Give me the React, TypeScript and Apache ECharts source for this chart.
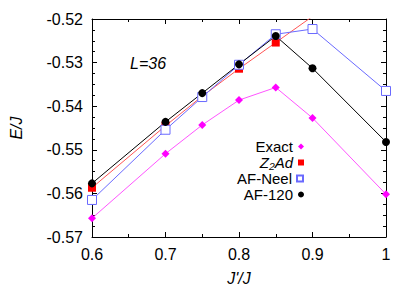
import React, { useEffect, useRef } from 'react';
import * as echarts from 'echarts';

const jRatio = [0.6, 0.7, 0.75, 0.8, 0.85, 0.9, 1];
const exact = [-0.5657, -0.5509, -0.5443, -0.5386, -0.5357, -0.5427, -0.5602];
const z2adX = [0.6, 0.7, 0.75, 0.8, 0.85];
const z2ad = [-0.5587, -0.5445, -0.5377, -0.5314, -0.5254];
const z2adTrendX = [0.85, 0.9];
const z2adTrend = [-0.5254, -0.5194];
const afNeel = [-0.5615, -0.5454, -0.5379, -0.5305, -0.5235, -0.5223, -0.5365];
const af120 = [-0.5577, -0.5436, -0.537, -0.5304, -0.5239, -0.5313, -0.5482];
const legendNames = ['Exact', 'Z2Ad', 'AF-Neel', 'AF-120'];
const legendLabels = ['Exact', 'Z\u2082Ad', 'AF-Neel', 'AF-120'];

const FONT = 'Liberation Sans, Arial, Helvetica, sans-serif';

const pairs = (xs: number[], ys: number[]) => xs.map((x, i) => [x, ys[i]]);

export default function App() {
  const ref = useRef<HTMLDivElement>(null);
  useEffect(() => {
    if (!ref.current) return;
    const chart = echarts.init(ref.current, undefined, { renderer: 'svg' });
    const axisCommon = {
      axisLine: { show: true, lineStyle: { color: '#000', width: 1 } },
      splitLine: { show: false },
    };
    const xBase = { type: 'value', min: 0.6, max: 1, interval: 0.1 };
    const yBase = { type: 'value', min: -0.57, max: -0.52, interval: 0.01 };
    const tickIn = { show: true, inside: true, length: 5, lineStyle: { color: '#000', width: 1 } };
    const minorX = { show: true, splitNumber: 2, length: 3, lineStyle: { color: '#000', width: 1 } };
    const minorY = { show: true, splitNumber: 4, length: 3, lineStyle: { color: '#000', width: 1 } };
    const icons = ['diamond', 'rect', 'rect', 'circle'];
    const legendCenters = [146, 162, 178, 194];
    chart.setOption({
      animation: false,
      backgroundColor: '#fff',
      textStyle: { fontFamily: FONT },
      grid: { left: 89, top: 19, width: 297, height: 220, containLabel: false },
      xAxis: [
        {
          ...xBase,
          ...axisCommon,
          position: 'bottom',
          axisTick: tickIn,
          minorTick: minorX,
          axisLabel: { color: '#000', fontSize: 16, fontFamily: FONT, margin: 9 },
          name: "J'/J",
          nameLocation: 'middle',
          nameGap: 33,
          nameTextStyle: { color: '#000', fontSize: 16, fontStyle: 'italic', fontFamily: FONT },
        },
        {
          ...xBase,
          ...axisCommon,
          position: 'top',
          axisTick: tickIn,
          minorTick: minorX,
          axisLabel: { show: false },
        },
      ],
      yAxis: [
        {
          ...yBase,
          ...axisCommon,
          position: 'left',
          axisTick: tickIn,
          minorTick: minorY,
          axisLabel: { color: '#000', fontSize: 16, fontFamily: FONT, margin: 9 },
          name: 'E/J',
          nameLocation: 'middle',
          nameGap: 68,
          nameTextStyle: { color: '#000', fontSize: 16, fontStyle: 'italic', fontFamily: FONT },
        },
        {
          ...yBase,
          ...axisCommon,
          position: 'right',
          axisTick: tickIn,
          minorTick: minorY,
          axisLabel: { show: false },
        },
      ],
      legend: legendNames.map((n, i) => ({
        data: [{ name: n, icon: icons[i] }],
        right: 111,
        top: legendCenters[i] - 7,
        align: 'right',
        padding: 0,
        itemWidth: 6,
        itemHeight: 6,
        selectedMode: false,
        formatter: () => legendLabels[i],
        textStyle: {
          color: '#000',
          fontSize: 15,
          fontStyle: n === 'Z2Ad' ? 'italic' : 'normal',
          fontFamily: FONT,
          lineHeight: 14,
        },
      })),
      graphic: [
        {
          type: 'text',
          left: 130,
          top: 55,
          style: { text: 'L=36', fontSize: 16, fontStyle: 'italic', fontFamily: FONT, fill: '#000' },
        },
      ],
      series: [
        {
          name: 'Exact',
          type: 'line',
          data: pairs(jRatio, exact),
          symbol: 'diamond',
          symbolSize: 8,
          itemStyle: { color: '#ff00ff' },
          lineStyle: { color: '#ff55ff', width: 1 },
        },
        {
          name: 'Z2Ad',
          type: 'line',
          data: pairs(z2adX, z2ad),
          symbol: 'rect',
          symbolSize: 8,
          itemStyle: { color: '#ff0000' },
          lineStyle: { color: '#ff5555', width: 1 },
        },
        {
          name: 'Z2Ad-trend',
          type: 'line',
          data: pairs(z2adTrendX, z2adTrend),
          showSymbol: false,
          symbol: 'none',
          lineStyle: { color: '#ff5555', width: 1 },
        },
        {
          name: 'AF-Neel',
          type: 'line',
          data: pairs(jRatio, afNeel),
          symbol: 'rect',
          symbolSize: 9,
          itemStyle: { color: '#ffffff', borderColor: '#6a6aff', borderWidth: 1 },
          lineStyle: { color: '#6a6aff', width: 1 },
        },
        {
          name: 'AF-120',
          type: 'line',
          data: pairs(jRatio, af120),
          symbol: 'circle',
          symbolSize: 8,
          itemStyle: { color: '#000' },
          lineStyle: { color: '#000', width: 1 },
        },
      ],
    });
    return () => chart.dispose();
  }, []);
  return (
    <div
      ref={ref}
      style={{ position: 'fixed', left: 0, top: 0, width: 415, height: 291 }}
    />
  );
}
